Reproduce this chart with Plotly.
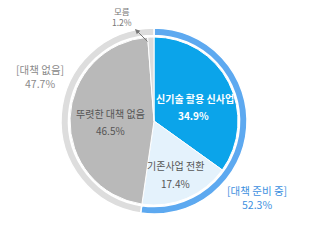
import plotly.graph_objects as go

W, H = 315, 242
inner_labels = ["신기술 활용 신사업", "기존사업 전환", "뚜렷한 대책 없음", "모름"]
inner_values = [34.9, 17.4, 46.5, 1.2]
inner_colors = ["#0ba4ea", "#e4f2fc", "#b9b9b9", "#dcdcdc"]
outer_labels = ["[대책 준비 중]", "[대책 없음]"]
outer_values = [52.3, 47.7]
outer_colors = ["#5da9f0", "#dddddd"]

cx, cy = 154, 121
R_out, R_in = 93, 84

def dom(r):
    return dict(x=[(cx - r) / W, (cx + r) / W], y=[1 - (cy + r) / H, 1 - (cy - r) / H])

fig = go.Figure()
fig.add_trace(go.Pie(labels=outer_labels, values=outer_values, hole=0.92, sort=False,
                     direction="clockwise", rotation=0, domain=dom(R_out),
                     marker=dict(colors=outer_colors, line=dict(color="white", width=1.5)),
                     textinfo="none", hoverinfo="label+value", showlegend=False))
fig.add_trace(go.Pie(labels=inner_labels, values=inner_values, sort=False,
                     direction="clockwise", rotation=0, domain=dom(R_in),
                     marker=dict(colors=inner_colors, line=dict(color="white", width=1)),
                     textinfo="none", hoverinfo="label+value", showlegend=False))

F = "Noto Sans CJK KR"
def ann(text, x, y, size, color, bold=False):
    t = f"<b>{text}</b>" if bold else text
    fig.add_annotation(x=x / W, y=1 - y / H, xref="paper", yref="paper", text=t,
                       xanchor="center", yanchor="middle",
                       showarrow=False, font=dict(family=F, size=size, color=color))

ann(inner_labels[0], 195, 98, 10, "white", True)
ann(f"{inner_values[0]}%", 193, 115, 10, "white", True)
ann(inner_labels[1], 175, 165, 10, "#555555")
ann(f"{inner_values[1]}%", 175, 183, 10, "#555555")
ann(inner_labels[2], 110, 113, 10, "#555555")
ann(f"{inner_values[2]}%", 110, 130, 10, "#555555")
ann(f"{outer_labels[1]}<br>{outer_values[1]}%", 40, 76, 10.5, "#8a8a8a")
ann(f"{outer_labels[0]}<br>{outer_values[0]}%", 257, 197, 10.5, "#3d8fe0")
ann(f"{inner_labels[3]}<br>{inner_values[3]}%", 122, 16.5, 8.5, "#777777")

fig.add_annotation(x=135 / W, y=1 - 29 / H, xref="paper", yref="paper", text="",
                   showarrow=True, ax=14, ay=14, arrowhead=2, arrowsize=1,
                   arrowwidth=1, arrowcolor="#777777")

fig.update_layout(width=W, height=H, margin=dict(l=0, r=0, t=0, b=0),
                  paper_bgcolor="white", plot_bgcolor="white")
fig.write_html("out.html")
